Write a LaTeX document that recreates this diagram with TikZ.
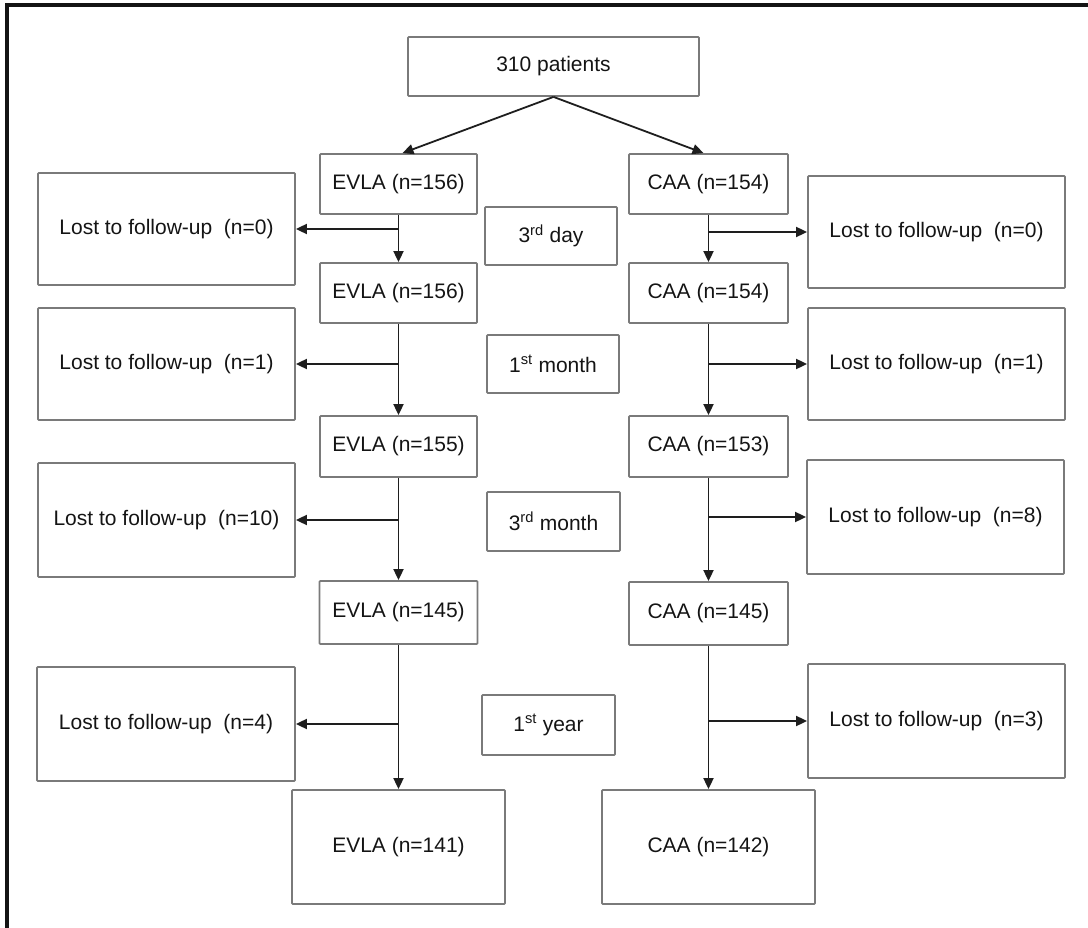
\documentclass[tikz,border=0pt]{standalone}
\usepackage{fontspec}
\setmainfont{Liberation Sans}
\usetikzlibrary{arrows.meta}
\definecolor{boxgray}{HTML}{7A7A7A}
\definecolor{linedark}{HTML}{1E1E1E}
\definecolor{txt}{HTML}{141414}
\begin{document}
\begin{tikzpicture}[x=1pt,y=-1pt,
  box/.style={draw=boxgray, line width=1.8pt, inner sep=0pt, text=txt,
    font=\fontsize{21}{25}\selectfont, rounded corners=0.8pt},
  conn/.style={draw=linedark, line width=1.8pt},
  arr/.style={conn, -{Triangle[length=11pt,width=10pt]}}]
\useasboundingbox (0,0) rectangle (1088,928);
\draw[line width=3.5pt, black!92] (7,928) -- (7,5) -- (1088,5);

% top
\node[box, minimum width=291pt, minimum height=59pt] (top) at (553.5,66.5) {310 patients};

% EVLA column
\node[box, minimum width=157pt, minimum height=60pt] (E1) at (398.5,184) {EVLA (n=156)};
\node[box, minimum width=157pt, minimum height=60pt] (E2) at (398.5,293) {EVLA (n=156)};
\node[box, minimum width=157pt, minimum height=61pt] (E3) at (398.5,446.5) {EVLA (n=155)};
\node[box, minimum width=158pt, minimum height=63pt] (E4) at (398.5,612.5) {EVLA (n=145)};
\node[box, minimum width=213pt, minimum height=114pt] (E5) at (398.5,847) {EVLA (n=141)};

% CAA column
\node[box, minimum width=159pt, minimum height=60pt] (C1) at (708.5,184) {CAA (n=154)};
\node[box, minimum width=159pt, minimum height=60pt] (C2) at (708.5,293) {CAA (n=154)};
\node[box, minimum width=159pt, minimum height=61pt] (C3) at (708.5,446.5) {CAA (n=153)};
\node[box, minimum width=159pt, minimum height=63pt] (C4) at (708.5,613.5) {CAA (n=145)};
\node[box, minimum width=213pt, minimum height=114pt] (C5) at (708.5,847) {CAA (n=142)};

% time points
\node[box, minimum width=132pt, minimum height=58pt] (T1) at (551,236) {3\textsuperscript{rd} day};
\node[box, minimum width=132pt, minimum height=58pt] (T2) at (553,364) {1\textsuperscript{st} month};
\node[box, minimum width=133pt, minimum height=59pt] (T3) at (553.5,521.5) {3\textsuperscript{rd} month};
\node[box, minimum width=133pt, minimum height=60pt] (T4) at (548.5,725) {1\textsuperscript{st} year};

% lost boxes left
\node[box, minimum width=257pt, minimum height=112pt] (L1) at (166.5,229) {Lost to follow-up~ (n=0)};
\node[box, minimum width=257pt, minimum height=112pt] (L2) at (166.5,364) {Lost to follow-up~ (n=1)};
\node[box, minimum width=257pt, minimum height=114pt] (L3) at (166.5,520) {Lost to follow-up~ (n=10)};
\node[box, minimum width=258pt, minimum height=114pt] (L4) at (166,724) {Lost to follow-up~ (n=4)};

% lost boxes right
\node[box, minimum width=257pt, minimum height=112pt] (R1) at (936.5,232) {Lost to follow-up~ (n=0)};
\node[box, minimum width=257pt, minimum height=112pt] (R2) at (936.5,364) {Lost to follow-up~ (n=1)};
\node[box, minimum width=257pt, minimum height=114pt] (R3) at (935.5,517) {Lost to follow-up~ (n=8)};
\node[box, minimum width=257pt, minimum height=114pt] (R4) at (936.5,721) {Lost to follow-up~ (n=3)};

% split arrows
\draw[arr] (top.south) -- ([xshift=4pt]E1.north);
\draw[arr] (top.south) -- ([xshift=-5pt]C1.north);

% vertical arrows
\draw[arr] (E1.south) -- (E2.north);
\draw[arr] (E2.south) -- (E3.north);
\draw[arr] (E3.south) -- (E4.north);
\draw[arr] (E4.south) -- (E5.north);
\draw[arr] (C1.south) -- (C2.north);
\draw[arr] (C2.south) -- (C3.north);
\draw[arr] (C3.south) -- (C4.north);
\draw[arr] (C4.south) -- (C5.north);

% side arrows
\draw[arr] (E1.south |- L1.east) -- (L1.east);
\draw[arr] (E2.south |- L2.east) -- (L2.east);
\draw[arr] (E3.south |- L3.east) -- (L3.east);
\draw[arr] (E4.south |- L4.east) -- (L4.east);
\draw[arr] (C1.south |- R1.west) -- (R1.west);
\draw[arr] (C2.south |- R2.west) -- (R2.west);
\draw[arr] (C3.south |- R3.west) -- (R3.west);
\draw[arr] (C4.south |- R4.west) -- (R4.west);
\end{tikzpicture}
\end{document}
